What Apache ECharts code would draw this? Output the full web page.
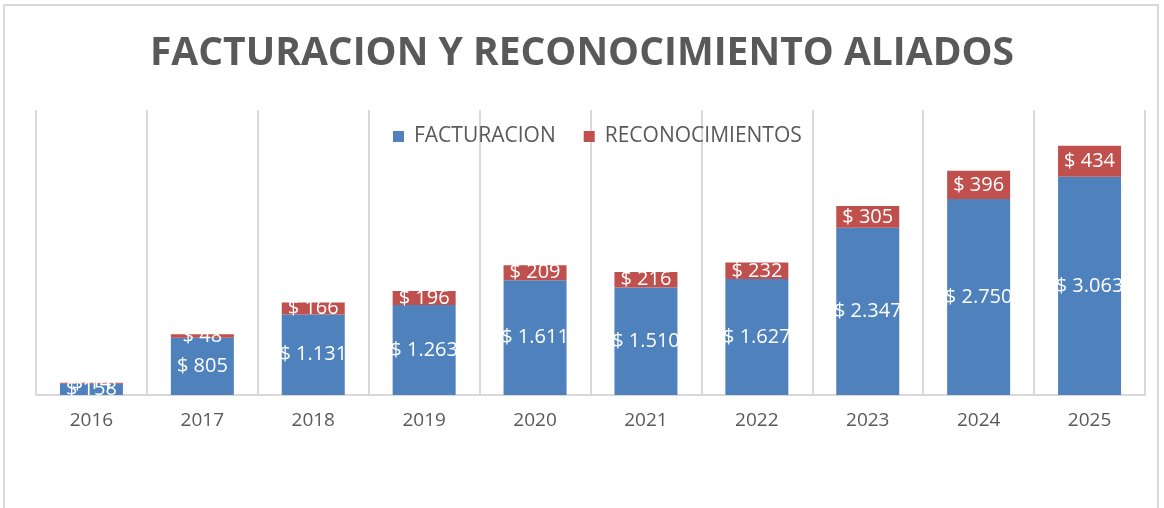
<!DOCTYPE html>
<html>
<head>
<meta charset="utf-8">
<script src="https://cdn.jsdelivr.net/npm/echarts@6/dist/echarts.min.js"></script>
<style>
  html, body { margin: 0; padding: 0; background: #fff; }
  #chart { width: 1164px; height: 508px; }
</style>
</head>
<body>
<div id="chart"></div>
<script>
// datos
const years = ['2016', '2017', '2018', '2019', '2020', '2021', '2022', '2023', '2024', '2025']
const facturacion = [158, 805, 1131, 1263, 1611, 1510, 1627, 2347, 2750, 3063]
const reconocimientos = [14, 48, 166, 196, 209, 216, 232, 305, 396, 434]

const fmt = (v) => '$ ' + String(v).replace(/\B(?=(\d{3})+(?!\d))/g, '.')

const chart = echarts.init(document.getElementById('chart'))

const labelStyle = {
  show: true,
  position: 'inside',
  color: '#fff',
  fontSize: 20,
  fontFamily: 'Open Sans',
  formatter: (p) => fmt(p.value)
}

chart.setOption({
  backgroundColor: '#fff',
  animation: false,
  graphic: [{
    type: 'rect',
    shape: { x: 4, y: 5, width: 1154, height: 520 },
    style: { fill: 'none', stroke: '#d9d9d9', lineWidth: 2 },
    silent: true
  }],
  title: {
    text: 'FACTURACION Y RECONOCIMIENTO ALIADOS',
    left: 'center',
    top: 29,
    textStyle: {
      color: '#595959',
      fontSize: 39,
      fontWeight: 'bold',
      fontFamily: 'Open Sans'
    }
  },
  legend: {
    top: 121,
    left: 388,
    itemWidth: 11,
    itemHeight: 11,
    itemGap: 28,
    icon: 'rect',
    textStyle: { color: '#595959', fontSize: 21, fontFamily: 'Open Sans', padding: [0, 0, 0, 5] },
    data: ['FACTURACION', 'RECONOCIMIENTOS']
  },
  grid: { left: 36, right: 19, top: 110, bottom: 113 },
  xAxis: {
    type: 'category',
    data: years,
    axisLine: { lineStyle: { color: '#d9d9d9', width: 2 } },
    axisTick: { show: false },
    splitLine: { show: true, interval: 0, lineStyle: { color: '#d9d9d9', width: 2 } },
    axisLabel: {
      color: '#595959',
      fontSize: 19,
      fontFamily: 'Open Sans',
      margin: 16
    }
  },
  yAxis: {
    type: 'value',
    min: 0,
    max: 4000,
    show: false,
    splitLine: { show: false }
  },
  series: [
    {
      name: 'FACTURACION',
      type: 'bar',
      stack: 'total',
      barWidth: 63,
      itemStyle: { color: '#4f81bd' },
      label: labelStyle,
      data: facturacion
    },
    {
      name: 'RECONOCIMIENTOS',
      type: 'bar',
      stack: 'total',
      barWidth: 63,
      itemStyle: { color: '#c0504d' },
      label: labelStyle,
      data: reconocimientos
    }
  ]
})
</script>
</body>
</html>
